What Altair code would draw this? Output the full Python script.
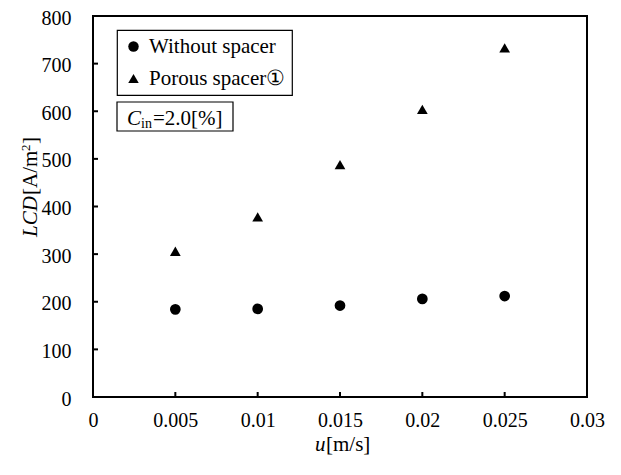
import altair as alt
import pandas as pd

# data
u_vals = [0.005, 0.01, 0.015, 0.02, 0.025]
without_spacer = [184, 185, 192, 206, 212]
porous_spacer = [306, 378, 488, 604, 733]
series_names = ["Without spacer", "Porous spacer\u2460"]
x_ticks = [0, 0.005, 0.01, 0.015, 0.02, 0.025, 0.03]
y_ticks = [0, 100, 200, 300, 400, 500, 600, 700, 800]

FONT = "Liberation Serif"
W, H = 494, 381

rows = []
for u, v in zip(u_vals, without_spacer):
    rows.append({"u": u, "LCD": v, "series": series_names[0]})
for u, v in zip(u_vals, porous_spacer):
    rows.append({"u": u, "LCD": v, "series": series_names[1]})
df = pd.DataFrame(rows)

xscale = alt.Scale(domain=[0, 0.03], nice=False, zero=False)
yscale = alt.Scale(domain=[0, 800], nice=False)

xaxis = alt.Axis(values=x_ticks, format="~g", title=None, grid=False, ticks=False,
                 domain=False, labelFont=FONT, labelFontSize=20, labelColor="black",
                 labelPadding=13, labelFlush=False)
yaxis = alt.Axis(values=y_ticks, title=None, grid=False, ticks=False, domain=False,
                 labelFont=FONT, labelFontSize=20, labelColor="black", labelPadding=22,
                 labelOffset=2)

legend = alt.Legend(title=None, orient="none", legendX=24, legendY=14, direction="vertical",
                    labelFont=FONT, labelFontSize=21, labelColor="black",
                    strokeColor="black", fillColor="white", padding=6, rowPadding=10,
                    labelOffset=5, symbolSize=110, symbolFillColor="black",
                    symbolStrokeWidth=0, symbolOpacity=1, labelLimit=300)

points = alt.Chart(df).mark_point(filled=True, opacity=1, size=115, color="black").encode(
    x=alt.X("u:Q", scale=xscale, axis=xaxis),
    y=alt.Y("LCD:Q", scale=yscale, axis=yaxis),
    shape=alt.Shape("series:N",
                    scale=alt.Scale(domain=series_names, range=["circle", "triangle-up"]),
                    legend=legend),
)

# inward tick marks
xt = pd.DataFrame({"v": x_ticks[1:-1]})
yt = pd.DataFrame({"v": y_ticks[1:-1]})
xtick_rules = alt.Chart(xt).mark_rule(color="black", strokeWidth=2).encode(
    x=alt.X("v:Q", scale=xscale), y=alt.value(H), y2=alt.value(H - 5))
ytick_rules = alt.Chart(yt).mark_rule(color="black", strokeWidth=2).encode(
    y=alt.Y("v:Q", scale=yscale), x=alt.value(0), x2=alt.value(5))

one = pd.DataFrame({"t": ["x"]})

# C_in annotation box
cbox = alt.Chart(one).mark_rect(fill="white", stroke="black", strokeWidth=1.2).encode(
    x=alt.value(24), x2=alt.value(140), y=alt.value(86), y2=alt.value(115))


def txt(s, x, y, size=21, style="normal", angle=0):
    d = pd.DataFrame({"t": [s]})
    kw = dict(font=FONT, fontSize=size, fontStyle=style, align="left",
              baseline="alphabetic", color="black")
    if angle:
        kw["angle"] = angle
    return alt.Chart(d).mark_text(**kw).encode(text="t:N", x=alt.value(x), y=alt.value(y))


texts = [
    txt("C", 34, 109, style="italic"),
    txt("in", 48, 112, size=14),
    txt("=2.0[%]", 60, 109),
    # x title
    txt("u", 222, 435, style="italic"),
    txt("[m/s]", 233, 435),
    # y title (rotated)
    txt("LCD", -56, 221, style="italic", angle=270),
    txt("[A/m", -56, 179, angle=270),
    txt("2", -63, 135, size=13, angle=270),
    txt("]", -56, 128, angle=270),
]

chart = alt.layer(xtick_rules, ytick_rules, cbox, points, *texts).properties(
    width=W, height=H,
    background="white",
    autosize=alt.AutoSizeParams(type="none"),
    padding={"left": 85, "top": 8, "right": 20, "bottom": 60},
).configure_view(stroke="black", strokeWidth=2).configure_legend(
    strokeWidth=1.2,
)

chart.save("out.html", embed_options={"renderer": "svg", "actions": False})
